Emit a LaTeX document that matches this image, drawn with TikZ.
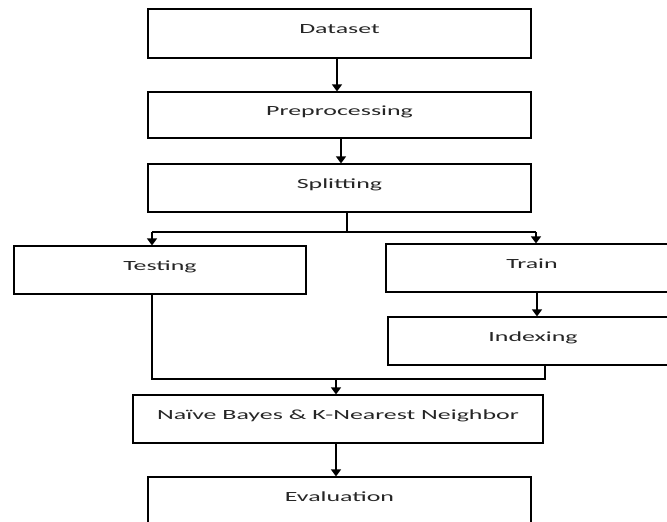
\documentclass[tikz,border=0pt]{standalone}
\usepackage{fontspec}
\setmainfont[FakeStretch=1.85]{Carlito}
\usetikzlibrary{arrows.meta}
\begin{document}
\begin{tikzpicture}[x=1pt,y=-1pt,
  box/.style={draw=black, line width=1.2pt, inner sep=0pt, minimum width=#1,
    font=\fontsize{14}{16}\selectfont, text=black!85},
  h48/.style={text height=24pt, text depth=24pt},
  h46/.style={text height=23pt, text depth=23pt},
  h49/.style={text height=24.5pt, text depth=24.5pt},
  conn/.style={line width=1.4pt, black},
  arr/.style={conn, -{Triangle[width=10pt,length=7pt]}}]
\clip (0,0) rectangle (667,522);
\fill[white] (0,0) rectangle (667,522);
\node[box=383pt, h49] (dataset) at (339.5,33.5) {Dataset};
\node[box=383pt, h46] (prep) at (339.5,115) {Preprocessing};
\node[box=383pt, h48] (split) at (339.5,188) {Splitting};
\node[box=292pt, h48] (testing) at (160,270) {Testing};
\node[box=292pt, h48] (train) at (532,268) {Train};
\node[box=290pt, h48] (indexing) at (533,341) {Indexing};
\node[box=410pt, h48] (nb) at (338,419) {Naïve Bayes \& K-Nearest Neighbor};
\node[box=383pt, h48] (eval) at (339.5,501) {Evaluation};
\coordinate (c1) at (337,0);
\coordinate (c2) at (341,0);
\coordinate (sj) at (347,232);
\coordinate (tl) at (152,232);
\coordinate (tr) at (536,232);
\coordinate (ti) at (537,0);
\coordinate (ml) at (152,379);
\coordinate (mr) at (545,379);
\coordinate (mm) at (336,379);
\draw[arr] (dataset.south -| c1) -- (prep.north -| c1);
\draw[arr] (prep.south -| c2) -- (split.north -| c2);
\draw[conn] (split.south -| sj) -- (sj);
\draw[conn] (tl) -- (tr);
\draw[arr] (tl) -- (testing.north -| tl);
\draw[arr] (tr) -- (train.north -| tr);
\draw[arr] (train.south -| ti) -- (indexing.north -| ti);
\draw[conn] (testing.south -| ml) -- (ml) -- (mr) -- (indexing.south -| mr);
\draw[arr] (mm) -- (nb.north -| mm);
\draw[arr] (nb.south -| mm) -- (eval.north -| mm);
\end{tikzpicture}
\end{document}
